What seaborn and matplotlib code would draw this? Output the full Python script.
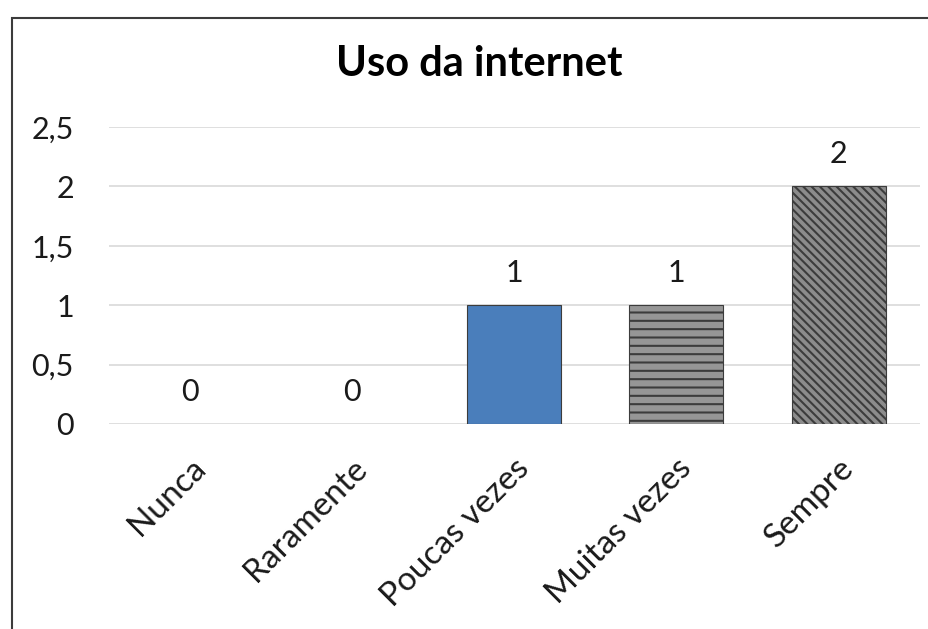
import matplotlib
matplotlib.use('Agg')
import matplotlib.pyplot as plt
import seaborn as sns
import pandas as pd
from matplotlib.patches import Rectangle

categorias = ['Nunca', 'Raramente', 'Poucas vezes', 'Muitas vezes', 'Sempre']
valores = [0, 0, 1, 1, 2]
cores = ['#4a7ebb', '#4a7ebb', '#4a7ebb', '#969696', '#8c8c8c']
hachuras = ['', '', '', '--', '\\\\\\\\']
titulo = 'Uso da internet'

sns.set_style('white')
plt.rcParams['font.family'] = ['Lato', 'DejaVu Sans']
plt.rcParams['hatch.color'] = '#3a3a3a'
plt.rcParams['hatch.linewidth'] = 1.5

df = pd.DataFrame({'categoria': categorias, 'valor': valores})

fig = plt.figure(figsize=(9.29, 6.29), dpi=100)
ax = fig.add_axes([0.117, 0.326, 0.873, 0.472])

sns.barplot(data=df, x='categoria', y='valor', hue='categoria', order=categorias,
            palette=cores, saturation=1, width=0.58, legend=False, ax=ax,
            edgecolor='#3c3c3c', linewidth=0.8, zorder=3)

for p, h, v in zip(ax.patches, hachuras, valores):
    p.set_hatch(h)
    if v == 0:
        p.set_linewidth(0)

for c in ax.containers:
    ax.bar_label(c, fmt='%g', padding=13, fontsize=22, color='#1a1a1a')

ax.set_ylim(0, 2.5)
ax.set_yticks([0, 0.5, 1, 1.5, 2, 2.5])
ax.set_yticklabels(['0', '0,5', '1', '1,5', '2', '2,5'], fontsize=22, color='#1a1a1a')
ax.set_xticks(range(len(categorias)))
ax.set_xticklabels(categorias, rotation=45, ha='right', rotation_mode='anchor',
                   fontsize=24, color='#1a1a1a')
ax.tick_params(axis='y', length=0, pad=25)
ax.tick_params(axis='x', length=0, pad=21)
ax.set_xlim(-0.5, 4.5)
ax.set_xlabel('')
ax.set_ylabel('')
ax.yaxis.grid(True, color='#d9d9d9', linewidth=1.2, zorder=0)
for s in ax.spines.values():
    s.set_visible(False)

fig.text(0.516, 0.898, titulo, ha='center', va='center', fontsize=30,
         fontweight='bold', color='#000000')

# moldura do gráfico (cortada à direita e embaixo)
fig.patches.append(Rectangle((12 / 929, -0.2), 1.2, (629 - 18) / 629 + 0.2,
                             transform=fig.transFigure, fill=False,
                             edgecolor='#3c3c3c', linewidth=1.5))

fig.savefig('out.png', dpi=100)
